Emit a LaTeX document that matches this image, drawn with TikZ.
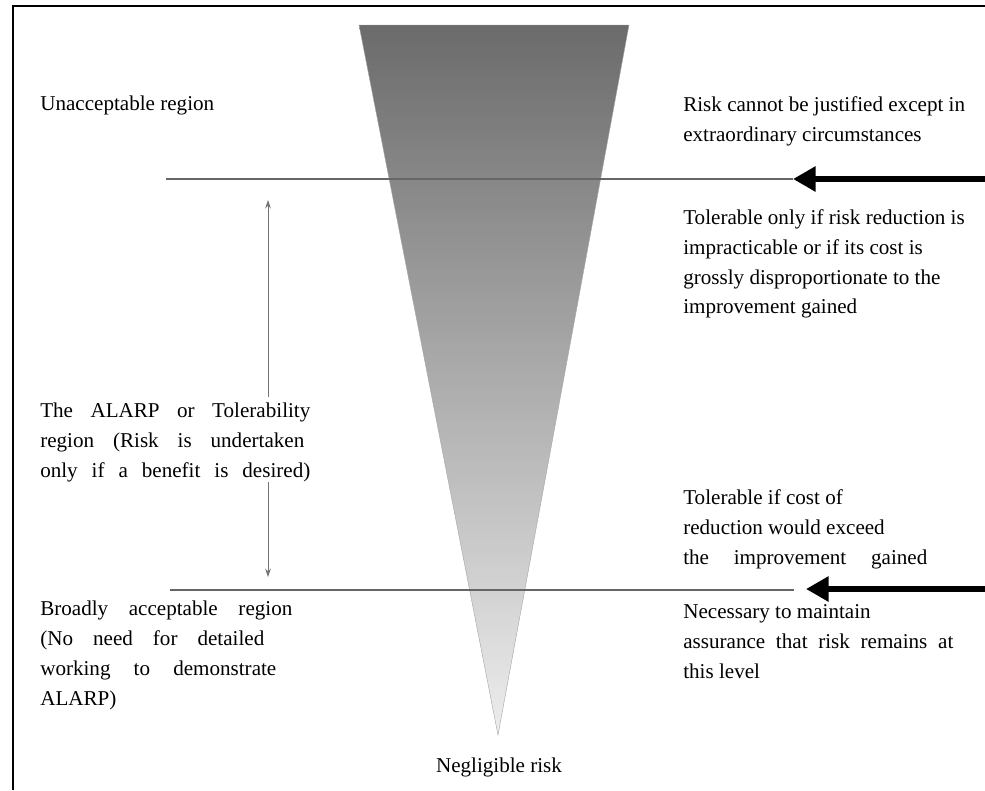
\documentclass[tikz,border=0pt]{standalone}
\usepackage{fontspec}
\setmainfont{Liberation Serif}
\usetikzlibrary{arrows.meta}

% line of text spread to a given width
\newcommand{\spread}[2]{\makebox[#1][s]{#2}}

\tikzset{
  txt/.style={anchor=north west, align=left, inner sep=0pt, font=\fontsize{15}{21.3}\selectfont},
  level/.style={draw=black!60, line width=1.6pt},
  bigarrow/.style={line width=4.4pt, -{Triangle[length=16pt, width=17pt]}},
  span/.style={draw=black!55, line width=0.7pt, -{Stealth[length=6pt, width=4pt]}}
}

\begin{document}
\begin{tikzpicture}[x=0.025cm, y=-0.025cm]
  \useasboundingbox (0,0) rectangle (985,790);
  % frame (cut off on the right and at the bottom)
  \draw [black, line width=1.6pt] (13,790) -- (13,6) -- (985,6);

  % risk triangle
  \shade [top color=black!58, middle color=black!18, bottom color=black!7, draw=black!35, line width=0.3pt]
    (359,25) -- (629,25) -- (498,735) -- cycle;

  % level lines
  \coordinate (upL) at (166,179);
  \coordinate (upR) at (793,179);
  \coordinate (loL) at (170,590);
  \coordinate (loR) at (794,590);
  \coordinate (upTip) at (793,179);
  \coordinate (upEnd) at (985,179);
  \coordinate (loTip) at (806,589);
  \coordinate (loEnd) at (985,589);
  \draw [level] (upL) -- (upR);
  \draw [level] (loL) -- (loR);
  \draw [bigarrow] (upEnd) -- (upTip);
  \draw [bigarrow] (loEnd) -- (loTip);

  % texts, left
  \node [txt] (unacc) at (40,96) {Unacceptable region};
  \node [txt] (alarp) at (40,403) {\spread{6.75cm}{The ALARP or Tolerability}\\\spread{6.6cm}{region (Risk is undertaken}\\\spread{6.75cm}{only if a benefit is desired)}};
  \node [txt] (broad) at (40,601) {\spread{6.3cm}{Broadly acceptable region}\\\spread{5.6cm}{(No need for detailed}\\\spread{5.9cm}{working to demonstrate}\\ALARP)};

  % texts, right
  \node [txt] (justify) at (683,96) {Risk cannot be justified except in\\extraordinary circumstances};
  \node [txt] (tolonly) at (683,209) {Tolerable only if risk reduction is\\impracticable or if its cost is\\grossly disproportionate to the\\improvement gained};
  \node [txt] (tolcost) at (683,489) {Tolerable if cost of\\reduction would exceed\\\spread{6.1cm}{the improvement gained}};
  \node [txt] (maintain) at (683,604) {Necessary to maintain\\\spread{6.75cm}{assurance that risk remains at}\\this level};

  \node [txt, anchor=north] (neglig) at (499,758) {Negligible risk};

  % extent of the ALARP region
  \coordinate (spanTop) at (268,200);
  \coordinate (spanA) at (268,397);
  \coordinate (spanB) at (268,482);
  \coordinate (spanBot) at (268,577);
  \draw [span] (spanA) -- (spanTop);
  \draw [span] (spanB) -- (spanBot);
\end{tikzpicture}
\end{document}
